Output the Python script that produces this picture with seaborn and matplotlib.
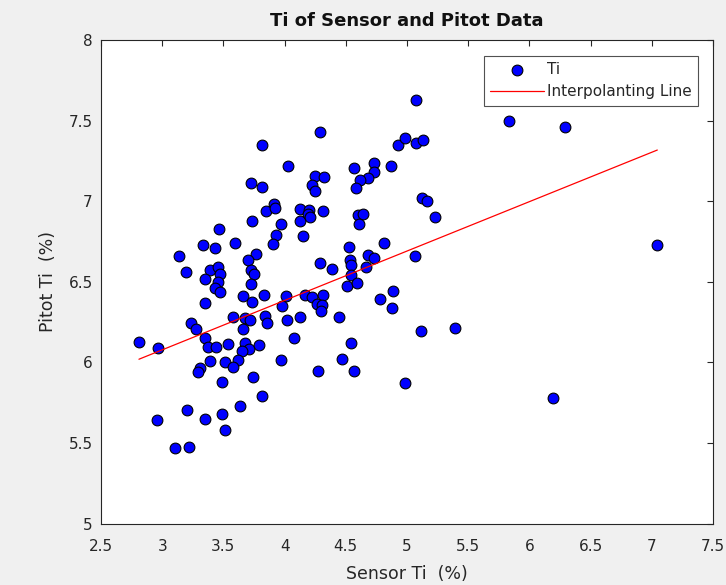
import numpy as np
import pandas as pd
import matplotlib
matplotlib.use("Agg")
import matplotlib.pyplot as plt
import seaborn as sns
from matplotlib.ticker import FuncFormatter, MultipleLocator

sensor_ti = [
    3.818, 4.03, 3.725, 3.818, 3.916, 3.846, 3.92, 4.126, 3.736, 3.97,
    4.126, 3.467, 3.927, 3.905, 4.153, 3.336, 3.434, 3.592, 3.135, 3.769,
    3.70, 3.194, 3.39, 3.458, 3.475, 3.723, 3.75, 3.352, 3.453, 3.723,
    3.434, 3.472, 3.663, 3.83, 4.01,
    2.81, 2.966, 3.352, 3.731, 3.976, 4.128, 3.235, 3.279, 3.581, 3.679,
    3.715, 3.843, 3.856, 4.017, 3.663, 3.347, 3.374, 3.437, 3.538, 3.679,
    3.712, 3.652, 3.788, 4.076, 3.39, 3.516, 3.622, 3.576, 3.311, 3.295,
    3.971, 3.739, 3.486, 3.813, 3.205, 3.633, 2.955, 3.352, 3.486, 3.516,
    3.102, 3.216,
    5.074, 4.292, 4.93, 4.985, 5.071, 5.128, 4.567, 4.733, 4.872, 4.733,
    4.679, 4.616, 4.583, 4.246, 4.319, 4.226, 4.251, 5.123, 5.161, 5.231,
    4.199, 4.194, 4.208, 4.316, 4.597, 4.638, 4.605, 4.524, 4.815, 5.062,
    4.287, 4.387, 4.534, 4.545, 4.681, 4.733, 4.665, 4.542, 4.507, 4.589,
    4.889, 4.167, 4.226, 4.316, 4.78,
    4.267, 4.303, 4.295, 4.442, 4.875, 5.117, 5.392, 4.545, 4.471, 4.27,
    4.564, 4.984,
    5.836, 6.291, 7.045, 6.195,
]
pitot_ti = [
    7.35, 7.22, 7.115, 7.085, 6.98, 6.94, 6.96, 6.952, 6.88, 6.86,
    6.874, 6.83, 6.79, 6.735, 6.783, 6.725, 6.71, 6.74, 6.657, 6.67,
    6.634, 6.56, 6.574, 6.59, 6.547, 6.574, 6.545, 6.516, 6.498, 6.487,
    6.464, 6.436, 6.41, 6.42, 6.41,
    6.128, 6.09, 6.37, 6.376, 6.349, 6.28, 6.247, 6.208, 6.28, 6.276,
    6.262, 6.285, 6.247, 6.262, 6.204, 6.15, 6.097, 6.097, 6.114, 6.122,
    6.084, 6.068, 6.107, 6.15, 6.006, 6.002, 6.012, 5.968, 5.965, 5.94,
    6.016, 5.909, 5.875, 5.79, 5.706, 5.729, 5.644, 5.648, 5.681, 5.58,
    5.469, 5.475,
    7.628, 7.428, 7.35, 7.394, 7.363, 7.382, 7.205, 7.237, 7.22, 7.18,
    7.146, 7.134, 7.081, 7.155, 7.149, 7.103, 7.06, 7.02, 7.002, 6.903,
    6.946, 6.921, 6.9, 6.942, 6.917, 6.921, 6.857, 6.717, 6.742, 6.659,
    6.617, 6.578, 6.638, 6.607, 6.663, 6.65, 6.59, 6.539, 6.473, 6.49,
    6.44, 6.415, 6.405, 6.415, 6.39,
    6.363, 6.353, 6.318, 6.28, 6.339, 6.192, 6.213, 6.117, 6.02, 5.944,
    5.946, 5.873,
    7.496, 7.459, 6.729, 5.779,
]

# interpolating line: pitot = slope * sensor + intercept
fit_slope = 0.3065
fit_intercept = 5.158

title = "Ti of Sensor and Pitot Data"
x_label = "Sensor Ti  (%)"
y_label = "Pitot Ti  (%)"
series_label = "Ti"
line_label = "Interpolanting Line"

df = pd.DataFrame({"sensor": sensor_ti, "pitot": pitot_ti})

fit_x = np.array([df["sensor"].min(), df["sensor"].max()])
fit_df = pd.DataFrame({"x": fit_x, "y": fit_slope * fit_x + fit_intercept})

sns.set_style("white")
plt.rcParams["font.family"] = ["DejaVu Sans"]

fig = plt.figure(figsize=(7.26, 5.85), dpi=100, facecolor="#f0f0f0")
ax = fig.add_axes([101 / 726, 1 - 523.5 / 585, 612 / 726, 483.5 / 585])
ax.set_facecolor("white")

sns.scatterplot(data=df, x="sensor", y="pitot", ax=ax, s=60, color="#0000ff",
                edgecolor="black", linewidth=0.8, label=series_label, zorder=3)
sns.lineplot(data=fit_df, x="x", y="y", ax=ax, color="#ff0000", linewidth=0.9,
             label=line_label, zorder=4)

ax.set_xlim(2.5, 7.5)
ax.set_ylim(5, 8)
ax.xaxis.set_major_locator(MultipleLocator(0.5))
ax.yaxis.set_major_locator(MultipleLocator(0.5))
fmt = FuncFormatter(lambda v, p: f"{v:g}")
ax.xaxis.set_major_formatter(fmt)
ax.yaxis.set_major_formatter(fmt)
ax.tick_params(direction="in", length=4, width=0.8, colors="#262626",
               labelsize=11, top=True, right=True)
ax.tick_params(axis="x", pad=11)
ax.tick_params(axis="y", pad=6)
for sp in ax.spines.values():
    sp.set_color("#262626")
    sp.set_linewidth(0.8)

ax.set_title(title, fontsize=13, fontweight="bold", pad=10, color="#111111")
ax.set_xlabel(x_label, fontsize=12.5, color="#262626", labelpad=8)
ax.set_ylabel(y_label, fontsize=12.5, color="#262626", labelpad=8)

leg = ax.legend(loc="upper right", bbox_to_anchor=(0.975, 0.9675), frameon=True,
                fancybox=False, edgecolor="#262626", fontsize=11,
                borderpad=0.4, handlelength=3.5, handletextpad=0.2,
                labelspacing=0.5, borderaxespad=0)
leg.get_frame().set_linewidth(0.8)

fig.savefig("out.png", dpi=100, facecolor=fig.get_facecolor())
